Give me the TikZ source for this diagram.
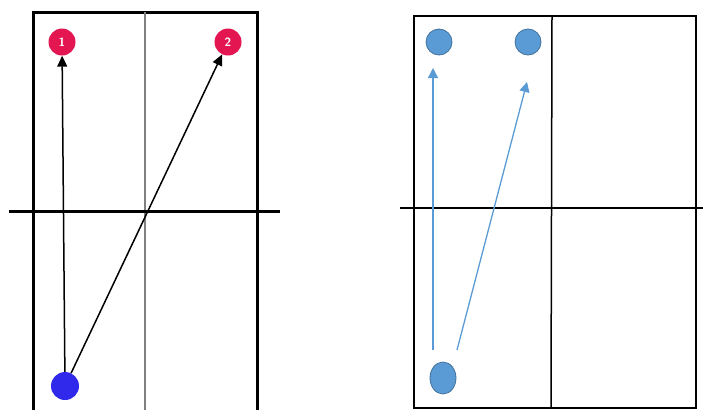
\documentclass[tikz,border=0pt]{standalone}
\usetikzlibrary{arrows.meta,shapes.geometric}
\definecolor{ballred}{RGB}{228,22,82}
\definecolor{ballblue}{RGB}{48,40,235}
\definecolor{spotblue}{RGB}{91,155,213}
\definecolor{spotedge}{RGB}{65,113,156}
\begin{document}
\begin{tikzpicture}[x=1pt,y=-1pt,
   target/.style={circle,fill=ballred,minimum size=27pt,inner sep=0pt,text=white,font=\sffamily\bfseries\fontsize{12}{13}\selectfont},
   feeder/.style={circle,fill=ballblue,minimum size=28pt,inner sep=0pt},
   spot/.style={ellipse,fill=spotblue,draw=spotedge,line width=0.8pt,minimum width=26pt,minimum height=26pt,inner sep=0pt},
   court/.style={line width=3pt},
   >={Triangle[length=11pt,width=10pt]}]
  \useasboundingbox (0,0) rectangle (703,410);
  % left court
  \draw[court] (33,410) -- (33,12) -- (257,12) -- (257,410);
  \draw[gray,line width=1.5pt] (145,12) -- (145,410);
  \draw[court] (9,211) -- (280,211);
  \node[target] (t1) at (62,42) {1};
  \node[target] (t2) at (228,42) {2};
  \node[feeder] (f) at (65,386) {};
  \draw[->,line width=1.5pt] (f) -- (t1);
  \draw[->,line width=1.5pt] (f) -- (t2);
  % right court
  \draw[line width=2.3pt] (414,16) rectangle (696,408);
  \draw[line width=1.5pt] (552,16) -- (551,408);
  \draw[line width=2.5pt] (400,208) -- (703,208);
  \node[spot] (s1) at (439,42) {};
  \node[spot] (s2) at (528,42) {};
  \node[spot,minimum height=32pt] (s0) at (443,378) {};
  \coordinate (a1) at (433,350);
  \coordinate (e1) at (433,68);
  \coordinate (a2) at (457,350);
  \coordinate (e2) at (527,82);
  \draw[-{Triangle[length=10pt,width=10pt]},spotblue,line width=1.3pt] (a1) -- (e1);
  \draw[-{Triangle[length=10pt,width=10pt]},spotblue,line width=1.3pt] (a2) -- (e2);
\end{tikzpicture}
\end{document}
